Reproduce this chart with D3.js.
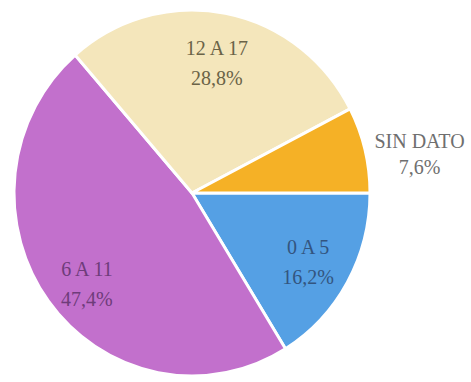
<!DOCTYPE html>
<html>
<head>
<meta charset="utf-8">
<script src="https://cdn.jsdelivr.net/npm/d3@7/dist/d3.min.js"></script>
<style>
  html, body { margin: 0; padding: 0; background: #ffffff; }
  svg { display: block; }
</style>
</head>
<body>
<svg id="chart" width="471" height="382"></svg>
<script>
// Age groups and their share of the total (%)
const categories = ["0 A 5", "6 A 11", "12 A 17", "SIN DATO"];
const values = [16.2, 47.4, 28.8, 7.6];
const valueLabels = ["16,2%", "47,4%", "28,8%", "7,6%"];
const colors = ["#55a0e4", "#c270cc", "#f4e6bb", "#f5b126"];
const textColors = ["#33557f", "#6e3c7a", "#6a6347", "#6f6f6f"];

const width = 471, height = 382;
const cx = 192, cy = 193;
const rx = 178, ry = 183;

const svg = d3.select("#chart");

const data = categories.map((c, i) => ({ cat: c, value: values[i], label: valueLabels[i], i }));

// Slices start at 3 o'clock and run clockwise
const pie = d3.pie()
  .value(d => d.value)
  .sort(null)
  .startAngle(Math.PI / 2)
  .endAngle(Math.PI / 2 + 2 * Math.PI);

const arcs = pie(data);

const arc = d3.arc().innerRadius(0).outerRadius(rx);

// The pie is drawn slightly taller than wide
const g = svg.append("g")
  .attr("transform", `translate(${cx},${cy}) scale(1,${ry / rx})`);

g.selectAll("path")
  .data(arcs)
  .join("path")
  .attr("d", arc)
  .attr("fill", d => colors[d.data.i])
  .attr("stroke", "#ffffff")
  .attr("stroke-width", 3)
  .attr("stroke-linejoin", "round");

// Label placement: inside labels on a ring, the small slice labelled outside
const insideArc = d3.arc().innerRadius(133).outerRadius(133);
const nudge = { "6 A 11": [2, 8], "12 A 17": [0, 2], "SIN DATO": [6, 16] };

const labels = svg.append("g")
  .attr("font-family", "'Liberation Serif', 'DejaVu Serif', serif")
  .attr("font-size", 20)
  .attr("text-anchor", "middle");

arcs.forEach(a => {
  let x, y, gap = "1.5em";
  if (a.data.cat === "SIN DATO") {
    const mid = (a.startAngle + a.endAngle) / 2;
    const r = 228;
    x = Math.sin(mid) * r;
    y = -Math.cos(mid) * r * ry / rx;
    gap = "1.3em";
  } else {
    const c = insideArc.centroid(a);
    x = c[0];
    y = c[1] * ry / rx;
  }
  const n = nudge[a.data.cat] || [0, 0];
  x += cx + n[0];
  y += cy + n[1];
  const t = labels.append("text")
    .attr("fill", textColors[a.data.i])
    .attr("x", x)
    .attr("y", y);
  t.append("tspan").attr("x", x).attr("dy", "-0.3em").text(a.data.cat);
  t.append("tspan").attr("x", x).attr("dy", gap).text(a.data.label);
});
</script>
</body>
</html>
